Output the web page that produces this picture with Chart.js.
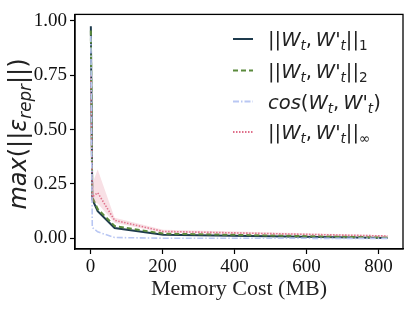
<!DOCTYPE html>
<html>
<head>
<meta charset="utf-8">
<script src="https://cdn.jsdelivr.net/npm/chart.js@4.4.1/dist/chart.umd.min.js"></script>
<style>
  html, body { margin: 0; padding: 0; background: #fff; }
  #c { display: block; }
</style>
</head>
<body>
<canvas id="c" width="415" height="311"></canvas>
<script>
// values
const memCost = [1, 5, 20, 67, 202, 825];
const normL1 = [0.975, 0.18, 0.125, 0.048, 0.017, 0.002];
const normL2 = [0.955, 0.19, 0.135, 0.057, 0.022, 0.004];
const cosine = [0.93, 0.05, 0.03, 0.004, 0.001, 0.0];
const normInf = [0.75, 0.19, 0.21, 0.083, 0.032, 0.011];
const normInfHi = [0.75, 0.25, 0.317, 0.095, 0.04, 0.015];
const normInfLo = [0.75, 0.17, 0.16, 0.072, 0.026, 0.008];
const xTicks = [0, 200, 400, 600, 800];
const yTicks = [0, 0.25, 0.5, 0.75, 1.0];

const pts = (ys) => memCost.map((x, i) => ({ x: x, y: ys[i] }));

const SERIF = "'Liberation Serif', 'Times New Roman', serif";
const SANS = "'DejaVu Sans', sans-serif";

// draw a little mathtext-like string: segments of [text, style]
// style: r = upright, i = italic, s = subscript upright, si = subscript italic
function fontFor(st, size) {
  const sub = st[0] === "s";
  const it = st.indexOf("i") >= 0;
  return (it ? "italic " : "") + (sub ? size * 0.7 : size) + "px " + SANS;
}
function mathWidth(ctx, segs, size) {
  let w = 0;
  segs.forEach(([t, st]) => {
    ctx.font = fontFor(st, size);
    w += ctx.measureText(t).width;
  });
  return w;
}
function drawMath(ctx, x, y, segs, size) {
  ctx.textBaseline = "alphabetic";
  ctx.textAlign = "left";
  segs.forEach(([t, st]) => {
    ctx.font = fontFor(st, size);
    const dy = st[0] === "s" ? size * 0.22 : 0;
    ctx.fillText(t, x, y + dy);
    x += ctx.measureText(t).width;
  });
}

const pair = [["W", "i"], ["t", "si"], [",\u2009", "r"], ["W", "i"], ["'", "i"], ["t", "si"]];
const legendRows = [
  { color: "#1e3b4d", dash: [], label: [["||", "r"]].concat(pair, [["||", "r"], ["1", "s"]]) },
  { color: "#5b8a3c", dash: [5, 3], label: [["||", "r"]].concat(pair, [["||", "r"], ["2", "s"]]) },
  { color: "#b9c7f3", dash: [6, 2, 1.5, 2], label: [["cos", "i"], ["(", "r"]].concat(pair, [[")", "r"]]) },
  { color: "#df6f8a", dash: [1.5, 1.5], label: [["||", "r"]].concat(pair, [["||", "r"], ["\u221E", "s"]]) }
];

const decor = {
  id: "decor",
  afterDraw(chart) {
    const ctx = chart.ctx;
    const a = chart.chartArea;
    ctx.save();
    // frame
    ctx.strokeStyle = "#000";
    ctx.lineWidth = 1.3;
    ctx.strokeRect(a.left, a.top, a.right - a.left, a.bottom - a.top);

    // legend
    const rowY = [39, 70.5, 101.5, 132];
    legendRows.forEach((r, i) => {
      ctx.strokeStyle = r.color;
      ctx.lineWidth = 2;
      ctx.setLineDash(r.dash);
      ctx.beginPath();
      ctx.moveTo(233, rowY[i]);
      ctx.lineTo(253, rowY[i]);
      ctx.stroke();
      ctx.setLineDash([]);
      ctx.fillStyle = "#222";
      drawMath(ctx, 268, rowY[i] + 7, r.label, 19.5);
    });

    // y title
    const ySegs = [["max", "i"], ["(", "r"], ["||", "r"], ["\u03B5", "i"], ["repr", "si"], ["||", "r"], [")", "r"]];
    const w = mathWidth(ctx, ySegs, 24);
    ctx.translate(26, 134);
    ctx.rotate(-Math.PI / 2);
    ctx.fillStyle = "#222";
    drawMath(ctx, -w / 2, 0, ySegs, 24);
    ctx.restore();

    // x title
    ctx.save();
    ctx.fillStyle = "#222";
    ctx.font = "22px " + SERIF;
    ctx.textAlign = "center";
    ctx.textBaseline = "alphabetic";
    ctx.fillText("Memory Cost (MB)", 239, 295);
    ctx.restore();
  }
};

const base = { pointRadius: 0, tension: 0, fill: false };

new Chart(document.getElementById("c"), {
  type: "line",
  data: {
    datasets: [
      Object.assign({}, base, { data: pts(normInfHi), borderWidth: 0, borderColor: "rgba(0,0,0,0)",
        backgroundColor: "rgba(226,130,150,0.25)", fill: "+1" }),
      Object.assign({}, base, { data: pts(normInfLo), borderWidth: 0, borderColor: "rgba(0,0,0,0)" }),
      Object.assign({}, base, { data: pts(cosine), borderColor: "#b9c7f3", borderWidth: 1.6, borderDash: [6, 2, 1.5, 2] }),
      Object.assign({}, base, { data: pts(normInf), borderColor: "#df6f8a", borderWidth: 1.6, borderDash: [1.5, 1.5] }),
      Object.assign({}, base, { data: pts(normL2), borderColor: "#5b8a3c", borderWidth: 2, borderDash: [5, 3] }),
      Object.assign({}, base, { data: pts(normL1), borderColor: "#1e3b4d", borderWidth: 2 })
    ]
  },
  options: {
    responsive: false,
    animation: false,
    devicePixelRatio: 1,
    layout: { padding: { left: 0, right: 12, top: 12, bottom: 0 } },
    plugins: { legend: { display: false }, tooltip: { enabled: false } },
    scales: {
      x: {
        type: "linear",
        min: -43,
        max: 868,
        afterBuildTicks: (s) => { s.ticks = xTicks.map((v) => ({ value: v })); },
        afterFit: (s) => { s.height = 62; },
        grid: { drawOnChartArea: false, drawTicks: true, tickLength: 5, color: "#000", tickWidth: 1.2 },
        border: { display: true, color: "#000", width: 1.3 },
        ticks: { color: "#111", font: { family: SERIF, size: 19 }, padding: 2, maxRotation: 0 }
      },
      y: {
        type: "linear",
        min: -0.0487,
        max: 1.029,
        afterBuildTicks: (s) => { s.ticks = yTicks.map((v) => ({ value: v })); },
        afterFit: (s) => { s.width = 75; },
        grid: { drawOnChartArea: false, drawTicks: true, tickLength: 5, color: "#000", tickWidth: 1.2 },
        border: { display: true, color: "#000", width: 1.3 },
        ticks: { color: "#111", font: { family: SERIF, size: 19 }, padding: 3,
          callback: (v) => Number(v).toFixed(2) }
      }
    }
  },
  plugins: [decor]
});
</script>
</body>
</html>
